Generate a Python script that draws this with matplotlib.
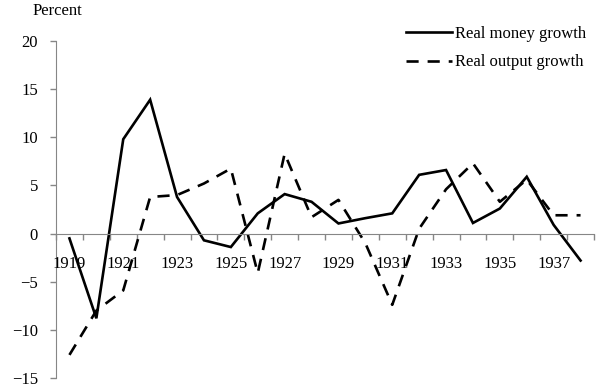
import matplotlib
matplotlib.use("Agg")
import matplotlib.pyplot as plt
import numpy as np

# 데이터
years = list(range(1919, 1939))
money_growth = [-0.5, -8.8, 9.8, 13.9, 3.8, -0.7, -1.4, 2.1, 4.1, 3.3,
                1.05, 1.6, 2.1, 6.1, 6.6, 1.1, 2.6, 5.9, 0.9, -2.8]
output_growth = [-12.6, -8.0, -5.9, 3.8, 4.0, 5.2, 6.75, -4.1, 8.3, 1.7,
                 3.5, -1.0, -7.4, 0.5, 4.6, 7.3, 3.3, 5.6, 1.9, 1.9]
year_labels = [str(y) for y in years[::2]]

plt.rcParams["font.family"] = ["Liberation Serif", "DejaVu Serif"]
plt.rcParams["font.size"] = 12

fig = plt.figure(figsize=(6, 3.9), dpi=100)
ax = fig.add_axes([56 / 600, 1 - 378 / 390, 538 / 600, 337 / 390])

x = np.arange(len(years))
ax.plot(x, money_growth, color="black", lw=1.9, solid_joinstyle="miter",
        label="Real money growth")
ax.plot(x, output_growth, color="black", lw=1.9, dashes=(4.6, 3.4),
        label="Real output growth")

axis_col = "#868686"
ax.set_xlim(-0.5, len(years) - 0.5)
ax.set_ylim(-15, 20)
ax.set_yticks(range(-15, 21, 5))
ax.set_xticks(np.arange(-0.5, len(years), 1.0))
ax.set_xticklabels([])
for s in ["top", "right"]:
    ax.spines[s].set_visible(False)
ax.spines["bottom"].set_position(("data", 0))
ax.spines["bottom"].set_color(axis_col)
ax.spines["left"].set_color(axis_col)
ax.tick_params(axis="both", colors=axis_col, length=4, width=1, labelcolor="black")
ax.tick_params(axis="y", pad=9)

for i, lab in zip(x[::2], year_labels):
    ax.text(i, -3.2, lab, ha="center", va="center", fontsize=12)

fig.text(33 / 600, 1 - 11 / 390, "Percent", ha="left", va="center", fontsize=12)

ax.legend(loc="upper left", bbox_to_anchor=(406 / 600, 1 - 26 / 390),
          bbox_transform=fig.transFigure, frameon=False, borderpad=0,
          borderaxespad=0, handlelength=2.75, handletextpad=0.2,
          labelspacing=0.75, fontsize=12)

fig.savefig("out.png", dpi=100)
